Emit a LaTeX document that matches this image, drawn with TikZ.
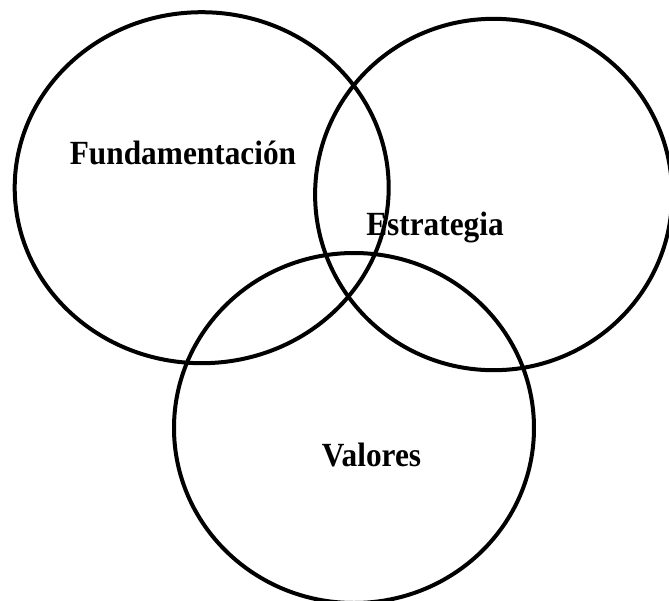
\documentclass[tikz,border=0pt]{standalone}
\usepackage{fontspec}
\setmainfont{Liberation Serif}

\begin{document}
\begin{tikzpicture}[x=0.75pt,y=0.75pt,yscale=-1,xscale=1]
\tikzset{ring/.style={line width=3pt},
  lbl/.style={anchor=base,inner sep=0.75pt,font=\fontsize{23.5}{28}\selectfont\bfseries}}
\newcommand{\tall}[1]{\scalebox{1}[1.08]{#1}}
\useasboundingbox (0,0) rectangle (669,601);
% circles
\draw [ring] (201.7,187.7) ellipse [x radius=187, y radius=175.5];
\draw [ring] (493.6,194.5) ellipse [x radius=178.5, y radius=175.7];
\draw [ring] (354,428) ellipse [x radius=180, y radius=175];
% labels
\node [lbl] (fund) at (183,164.5) {\tall{Fundamentación}};
\node [lbl] (estr) at (435,235.5) {\tall{Estrategia}};
\node [lbl] (val) at (371.5,466.5) {\tall{Valores}};
\end{tikzpicture}
\end{document}
